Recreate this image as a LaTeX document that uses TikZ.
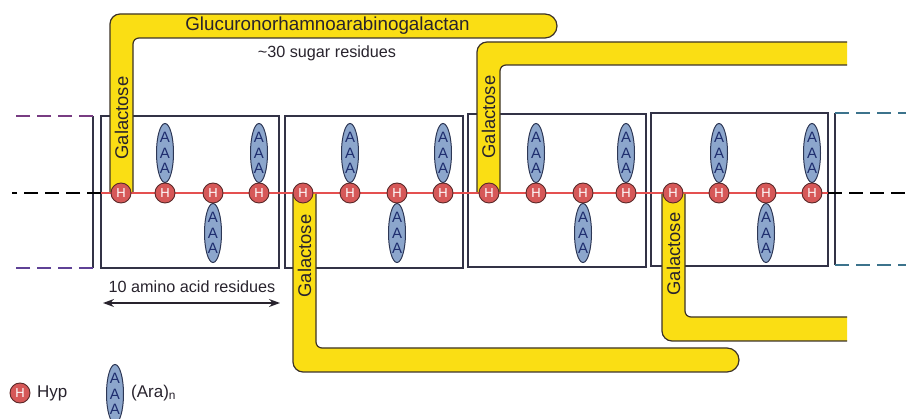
\documentclass[tikz,border=0pt]{standalone}
\usepackage{fontspec}
\setmainfont{Liberation Sans}
\usetikzlibrary{arrows.meta,shapes.geometric}
\definecolor{bandyellow}{RGB}{250,222,20}
\definecolor{bandedge}{RGB}{60,50,40}
\definecolor{hypred}{RGB}{214,88,88}
\definecolor{hypedge}{RGB}{90,40,40}
\definecolor{arablue}{RGB}{140,166,204}
\definecolor{araedge}{RGB}{45,55,85}
\definecolor{aratext}{RGB}{30,45,110}
\definecolor{boxline}{RGB}{50,50,70}
\definecolor{chainred}{RGB}{228,80,80}
\definecolor{dashpurpleA}{RGB}{120,60,130}
\definecolor{dashpurple}{RGB}{95,65,150}
\definecolor{dashteal}{RGB}{60,115,140}
\definecolor{inkdark}{RGB}{40,35,45}
\tikzset{
  boxl/.style={draw=boxline, line width=1.2pt},
  bandfill/.style={fill=bandyellow},
  bandline/.style={draw=bandedge, line width=1.2pt, line join=round},
  hyp/.style={circle, draw=hypedge, line width=0.9pt, fill=hypred, minimum size=20pt, inner sep=0pt, text=white, font=\fontsize{13}{13}\selectfont},
  ara/.style={ellipse, draw=araedge, line width=1pt, fill=arablue, minimum width=17pt, minimum height=59pt, inner sep=0pt, text=aratext, align=center, font=\fontsize{15}{15.5}\selectfont},
  lbl/.style={font=\fontsize{18.4}{20}\selectfont, text=inkdark, inner sep=0pt},
  sml/.style={font=\fontsize{16.2}{18}\selectfont, text=inkdark, inner sep=0pt},
  chain/.style={draw=chainred, line width=1.2pt},
  dashl/.style={line width=1.3pt, dash pattern=on 14pt off 7pt},
}
\begin{document}
\begin{tikzpicture}[x=1pt,y=-1pt]
\useasboundingbox (0,0) rectangle (906,419);
% boxes
\draw[boxl] (101,116) rectangle (279,268);
\draw[boxl] (285,116) rectangle (463,268);
\draw[boxl] (468,114) rectangle (646,267);
\draw[boxl] (651,113) rectangle (828,266);
% partial boxes
\coordinate (lpt) at (93,116);
\coordinate (lpb) at (93,268);
\coordinate (lptend) at (13,116);
\coordinate (lpbend) at (13,268);
\draw[boxl] (lpt) -- (lpb);
\draw[dashl, draw=dashpurpleA] (lpt) -- (lptend);
\draw[dashl, draw=dashpurple] (lpb) -- (lpbend);
\coordinate (rpt) at (835,113);
\coordinate (rpb) at (835,265);
\coordinate (rptend) at (906,113);
\coordinate (rpbend) at (906,265);
\draw[boxl] (rpt) -- (rpb);
\draw[dashl, draw=dashteal] (rpt) -- (rptend);
\draw[dashl, draw=dashteal] (rpb) -- (rpbend);
% chain
\coordinate (cL) at (101,193);
\coordinate (cR) at (828,193);
\coordinate (cLend) at (12,193);
\coordinate (cRend) at (906,193);
\draw[dashl, draw=black] (cL) -- (cLend);
\draw[dashl, draw=black] (cR) -- (cRend);
\draw[chain] (cL) -- (cR);
% band 1
\fill[bandfill] (110,192) -- (110,24) .. controls (110,18.5) and (114.5,14) .. (120,14) -- (545,14) .. controls (551.6,14) and (557,19.4) .. (557,26) .. controls (557,32.6) and (551.6,38) .. (545,38) -- (139,38) .. controls (135.7,38) and (133,40.7) .. (133,44) -- (133,192) -- cycle;
\draw[bandline] (110,192) -- (110,24) .. controls (110,18.5) and (114.5,14) .. (120,14) -- (545,14) .. controls (551.6,14) and (557,19.4) .. (557,26) .. controls (557,32.6) and (551.6,38) .. (545,38) -- (139,38) .. controls (135.7,38) and (133,40.7) .. (133,44) -- (133,192);
% band 2
\fill[bandfill] (477,192) -- (477,52) .. controls (477,46.5) and (481.5,42) .. (487,42) -- (847,42) -- (847,65) -- (506,65) .. controls (502.7,65) and (500,67.7) .. (500,71) -- (500,192) -- cycle;
\draw[bandline] (477,192) -- (477,52) .. controls (477,46.5) and (481.5,42) .. (487,42) -- (847,42);
\draw[bandline] (847,65) -- (506,65) .. controls (502.7,65) and (500,67.7) .. (500,71) -- (500,192);
% band 3
\fill[bandfill] (293,194) -- (293,362) .. controls (293,367.5) and (297.5,372) .. (303,372) -- (727,372) .. controls (733.6,372) and (739,366.6) .. (739,360) .. controls (739,353.4) and (733.6,348) .. (727,348) -- (322,348) .. controls (318.7,348) and (316,345.3) .. (316,342) -- (316,194) -- cycle;
\draw[bandline] (293,194) -- (293,362) .. controls (293,367.5) and (297.5,372) .. (303,372) -- (727,372) .. controls (733.6,372) and (739,366.6) .. (739,360) .. controls (739,353.4) and (733.6,348) .. (727,348) -- (322,348) .. controls (318.7,348) and (316,345.3) .. (316,342) -- (316,194);
% band 4
\fill[bandfill] (662,194) -- (662,331) .. controls (662,336.5) and (666.5,341) .. (672,341) -- (847,341) -- (847,317) -- (691,317) .. controls (687.7,317) and (685,314.3) .. (685,311) -- (685,194) -- cycle;
\draw[bandline] (662,194) -- (662,331) .. controls (662,336.5) and (666.5,341) .. (672,341) -- (847,341);
\draw[bandline] (847,317) -- (691,317) .. controls (687.7,317) and (685,314.3) .. (685,311) -- (685,194);
% band labels
\node[lbl, rotate=90] (gal1) at (121.5,118) {Galactose};
\node[lbl, rotate=90] (gal2) at (488.5,117) {Galactose};
\node[lbl, rotate=90] (gal3) at (304.5,256) {Galactose};
\node[lbl, rotate=90] (gal4) at (673.5,254) {Galactose};
\node[lbl, font=\fontsize{18.8}{20}\selectfont] (gluc) at (327.5,26) {Glucuronorhamnoarabinogalactan};
\node[sml] (sugar) at (327,53) {\textasciitilde30 sugar residues};
% arabinose chains
\node[ara] (a1) at (165,153) {A\\A\\A};
\node[ara] (a2) at (213,233) {A\\A\\A};
\node[ara] (a3) at (259,153) {A\\A\\A};
\node[ara] (a4) at (350,153) {A\\A\\A};
\node[ara] (a5) at (397,233) {A\\A\\A};
\node[ara] (a6) at (443,153) {A\\A\\A};
\node[ara] (a7) at (536,153) {A\\A\\A};
\node[ara] (a8) at (583,233) {A\\A\\A};
\node[ara] (a9) at (626,153) {A\\A\\A};
\node[ara] (a10) at (719,153) {A\\A\\A};
\node[ara] (a11) at (766,233) {A\\A\\A};
\node[ara] (a12) at (812,153) {A\\A\\A};
% Hyp residues
\node[hyp] (h1) at (121,193) {H};
\node[hyp] (h2) at (165,193) {H};
\node[hyp] (h3) at (213,193) {H};
\node[hyp] (h4) at (259,193) {H};
\node[hyp] (h5) at (303,193) {H};
\node[hyp] (h6) at (350,193) {H};
\node[hyp] (h7) at (397,193) {H};
\node[hyp] (h8) at (443,193) {H};
\node[hyp] (h9) at (489,193) {H};
\node[hyp] (h10) at (536,193) {H};
\node[hyp] (h11) at (583,193) {H};
\node[hyp] (h12) at (626,193) {H};
\node[hyp] (h13) at (673,193) {H};
\node[hyp] (h14) at (719,193) {H};
\node[hyp] (h15) at (766,193) {H};
\node[hyp] (h16) at (812,193) {H};
% scale arrow
\node[sml] (aa) at (192,287) {10 amino acid residues};
\coordinate (arL) at (103,303);
\coordinate (arR) at (280,303);
\draw[draw=inkdark, line width=1.3pt, {Stealth[length=11pt,width=8pt]}-{Stealth[length=11pt,width=8pt]}] (arL) -- (arR);
% legend
\node[hyp] (lh) at (20,393) {H};
\node[sml, anchor=west, font=\fontsize{17}{19}\selectfont] (lht) at (37,393) {Hyp};
\node[ara] (la) at (115,394) {A\\A\\A};
\node[sml, anchor=west, font=\fontsize{17}{19}\selectfont] (lat) at (131,393) {(Ara)\textsubscript{n}};
\end{tikzpicture}
\end{document}
